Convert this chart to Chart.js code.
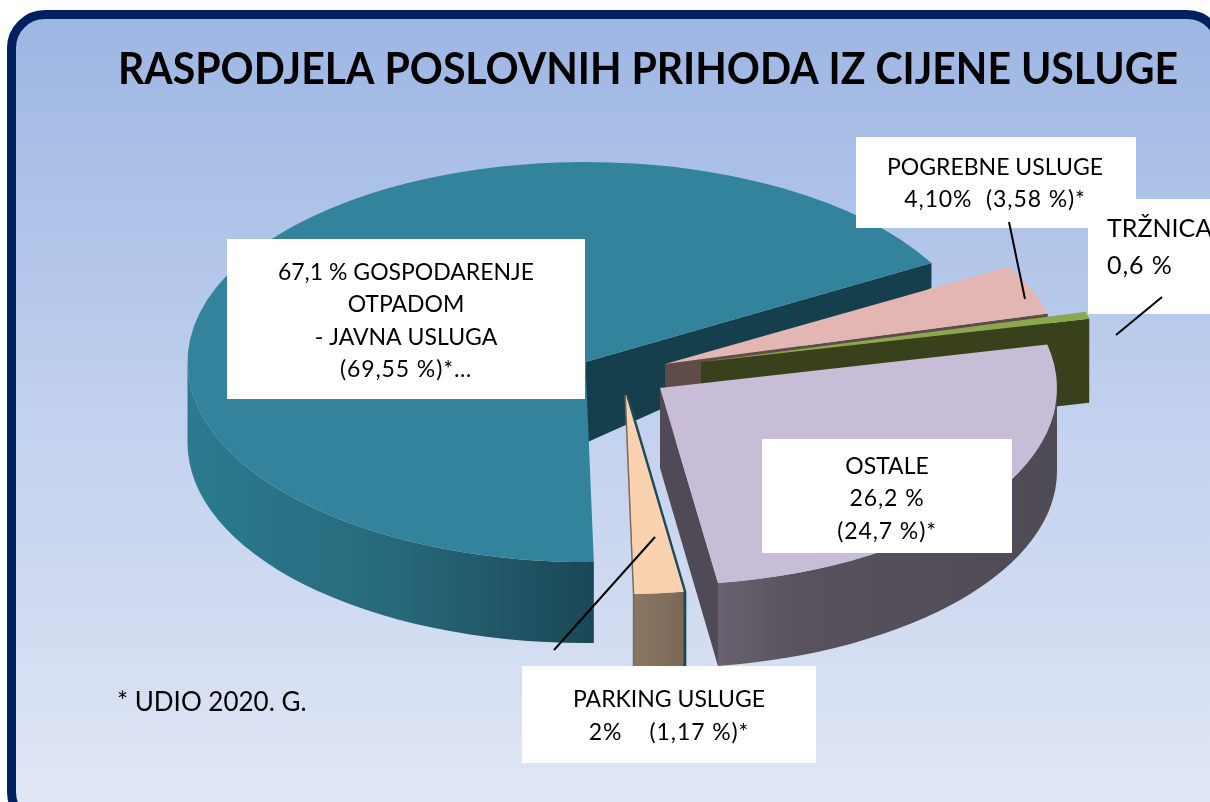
<!DOCTYPE html>
<html>
<head>
<meta charset="utf-8">
<script src="https://cdn.jsdelivr.net/npm/chart.js@4"></script>
<style>
html,body{margin:0;padding:0;width:1210px;height:802px;overflow:hidden;background:#fff}
#panel{position:absolute;left:7px;top:10px;width:1218px;height:820px;box-sizing:border-box;border:9px solid #002060;border-radius:38px;
background:linear-gradient(180deg,#9db6e3 0%,#c2d1ee 50%,#e1e7f5 100%)}
#c{position:absolute;left:0;top:0}
</style>
</head>
<body>
<div id="panel"></div>
<canvas id="c" width="1210" height="802"></canvas>
<script>
const titleText = 'RASPODJELA POSLOVNIH PRIHODA IZ CIJENE USLUGE';
const categories = ['Gospodarenje otpadom - javna usluga', 'Pogrebne usluge', 'Tržnica', 'Ostale', 'Parking usluge'];
const shares2021 = [67.1, 4.1, 0.6, 26.2, 2];
const footnote = '* UDIO 2020. G.';
const labelLines = [
  ['67,1 % GOSPODARENJE', 'OTPADOM', '- JAVNA USLUGA', '(69,55 %)*…'],
  ['POGREBNE USLUGE', '4,10%  (3,58 %)*'],
  ['TRŽNICA', '0,6 %'],
  ['OSTALE', '26,2 %', '(24,7 %)*'],
  ['PARKING USLUGE', '2%    (1,17 %)*']
];
const topColors = ['#32839b', '#e3b5b3', '#8aa84e', '#c8bdd6', '#fbd2b0'];

// presentation of the exploded 3D look
const look = [
  {tx:585.5, ty:362, rx:398, ry:200, apexD:81, rimD:25, outerD:81, radial:'#163f4e', wall:[[187,'#2b7b90'],[400,'#27687a'],[592,'#1a4856']]},
  {tx:665, ty:364, rx:396, ry:197, apexD:80, rimD:80, outerD:0,  radial:'#5f4c48'},
  {tx:701, ty:362, rx:398, ry:196, apexD:84, rimD:84, outerD:0,  radial:'#38401c'},
  {tx:660, ty:388, rx:397, ry:197, apexD:80, rimD:83, outerD:83, radial:'#4f4a55', wall:[[717,'#6a6270'],[800,'#57525d'],[1057,'#4f4b55']]},
  {tx:626, ty:395, rx:396, ry:199, apexD:0, rimD:0, outerD:80, radial:null, wall:[[632,'#8d7763'],[684,'#7a6958']], thin:true}
];
const boxes = [
  {x:227, y:239, w:358, h:160, cx:406, ys:[273,305,338,370]},
  {x:856, y:137, w:280, h:91,  cx:995, ys:[168,200]},
  {x:1088,y:199, w:122, h:115, left:1107, ys:[229,266], size:25},
  {x:762, y:439, w:250, h:114, cx:887, ys:[467,499,532]},
  {x:522, y:666, w:294, h:97,  cx:669, ys:[700,733]}
];
const leaders = [[1009,222,1025,299],[1162,297,1116,335],[655,537,554,650]];
const fam = 'Lato, Carlito, sans-serif';

function edge(s, a, d){ return [s.tx + s.rx*Math.cos(a), s.ty + s.ry*Math.sin(a) + (d||0)]; }

function drawWalls(ctx, arc, s){
  const a0 = arc.startAngle, a1 = arc.endAngle;
  if (s.radial){
    const rim = edge(s, a1);
    ctx.fillStyle = s.radial;
    ctx.beginPath();
    ctx.moveTo(s.tx, s.ty);
    ctx.lineTo(rim[0], rim[1]);
    ctx.lineTo(rim[0], rim[1] + s.rimD);
    ctx.lineTo(s.tx, s.ty + s.apexD);
    ctx.closePath();
    ctx.fill();
  }
  if (s.outerD && s.wall){
    const x0 = s.wall[0][0], span = s.wall[s.wall.length-1][0] - x0;
    const g = ctx.createLinearGradient(x0, 0, x0 + span, 0);
    s.wall.forEach(w => g.addColorStop((w[0]-x0)/span, w[1]));
    for (let k = -1; k <= 1; k++){
      const lo = Math.max(a0, k*2*Math.PI), hi = Math.min(a1, k*2*Math.PI + Math.PI);
      if (hi <= lo) continue;
      ctx.fillStyle = g;
      ctx.beginPath();
      ctx.ellipse(s.tx, s.ty, s.rx, s.ry, 0, lo, hi, false);
      ctx.ellipse(s.tx, s.ty + s.outerD, s.rx, s.ry, 0, hi, lo, true);
      ctx.closePath();
      ctx.fill();
    }
  }
  if (s.thin){
    const r = edge(s, a0), l = edge(s, a1);
    ctx.lineWidth = 3; ctx.strokeStyle = '#1d4a55';
    ctx.beginPath(); ctx.moveTo(s.tx + 1, s.ty); ctx.lineTo(r[0] + 1, r[1]); ctx.lineTo(r[0] + 1, r[1] + s.outerD); ctx.stroke();
    ctx.lineWidth = 2; ctx.strokeStyle = '#7a6a58';
    ctx.beginPath(); ctx.moveTo(s.tx - 0.5, s.ty); ctx.lineTo(l[0] - 0.5, l[1]); ctx.lineTo(l[0] - 0.5, l[1] + s.outerD); ctx.stroke();
  }
}

const pie3d = {
  id: 'pie3d',
  beforeDatasetsDraw(chart){
    const ctx = chart.ctx;
    chart.getDatasetMeta(0).data.forEach((arc, i) => {
      const s = look[i];
      ctx.save();
      drawWalls(ctx, arc, s);
      ctx.translate(s.tx, s.ty);
      ctx.scale(s.rx/arc.outerRadius, s.ry/arc.outerRadius);
      ctx.translate(-arc.x, -arc.y);
      arc.draw(ctx);
      ctx.restore();
    });
    return false;
  },
  afterDraw(chart){
    const ctx = chart.ctx;
    ctx.save();
    ctx.strokeStyle = '#000'; ctx.lineWidth = 2;
    boxes.forEach(b => {
      ctx.fillStyle = '#fff';
      ctx.fillRect(b.x, b.y, b.w, b.h);
    });
    leaders.forEach(l => { ctx.beginPath(); ctx.moveTo(l[0], l[1]); ctx.lineTo(l[2], l[3]); ctx.stroke(); });
    ctx.fillStyle = '#000'; ctx.textBaseline = 'middle';
    boxes.forEach((b, i) => {
      ctx.font = (b.size || 23) + 'px ' + fam;
      ctx.textAlign = b.left ? 'left' : 'center';
      labelLines[i].forEach((t, j) => {
        ctx.letterSpacing = /[A-Z]/.test(t) ? '0px' : '0.9px';
        ctx.fillText(t, b.left || b.cx, b.ys[j]);
      });
    });
    ctx.letterSpacing = '0px';
    ctx.textAlign = 'left';
    ctx.font = '26px ' + fam;
    ctx.fillText(footnote, 117, 703);
    ctx.restore();
  }
};

new Chart(document.getElementById('c').getContext('2d'), {
  type: 'pie',
  data: { labels: categories, datasets: [{ data: shares2021, backgroundColor: topColors, borderWidth: 0 }] },
  options: {
    responsive: false, animation: false, rotation: 178.8,
    layout: { padding: { left: 118, right: 32, top: 0 } },
    plugins: {
      legend: { display: false }, tooltip: { enabled: false },
      title: { display: true, text: titleText, align: 'start', color: '#000',
        font: { family: fam, size: 43, weight: 'bold' }, padding: { top: 44, bottom: 0 } }
    }
  },
  plugins: [pie3d]
});
</script>
</body>
</html>
